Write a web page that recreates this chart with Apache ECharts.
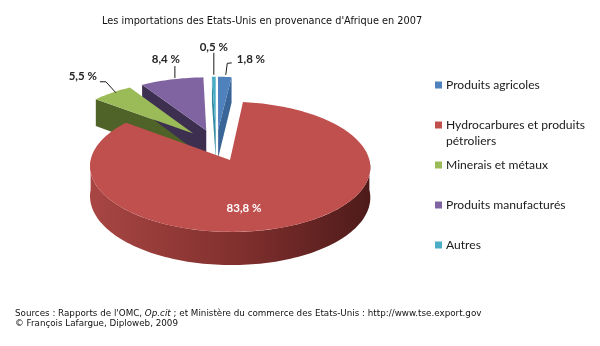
<!DOCTYPE html>
<html>
<head>
<meta charset="utf-8">
<script src="https://cdn.jsdelivr.net/npm/echarts@6/dist/echarts.min.js"></script>
<style>
  html, body { margin: 0; padding: 0; background: #ffffff; }
  #chart { width: 600px; height: 346px; }
</style>
</head>
<body>
<div id="chart"></div>
<script>
// Import shares by product group (percent of total)
const categories = [
  'Produits agricoles',
  'Hydrocarbures et produits\npétroliers',
  'Minerais et métaux',
  'Produits manufacturés',
  'Autres'
];
const shares = [1.8, 83.8, 5.5, 8.4, 0.5];

const titleText = "Les importations des Etats-Unis en provenance d'Afrique en 2007";
const sourceLine = "Sources : Rapports de l'OMC, {i|Op.cit} ; et Ministère du commerce des Etats-Unis : http://www.tse.export.gov";
const creditLine = "© François Lafargue, Diploweb, 2009";

// Colours: top faces and the darker side walls
const topColors  = ['#4f81bd', '#c0504d', '#9bbb59', '#8064a2', '#4bacc6'];
const wallColors = ['#3a6598', '#8c3836', '#4f6228', '#3d2f50', '#2f8aa2'];

// Tilted-disc projection of the pie
const view = { cx: 216.2, cy: 145.1, rx: 136, ry: 61.3, depth: 29, persp: 0.102, explode: 0.257 };

// Leader lines / label offsets from each slice's outer mid point
const labelLayout = [
  { line: [[1, -2], [2.5, -13.6], [7, -14]], text: [12, -18], align: 'left' },
  { inside: true, text: [14, 48], align: 'center' },
  { line: [[4, 0], [-6, -11], [-12, -11]], text: [-15, -16], align: 'right' },
  { line: [[3, -1.4], [3, -13.4]], text: [-6, -20], align: 'center' },
  { line: [[0, -2], [0, -24]], text: [0, -30], align: 'center' }
];

const total = shares.reduce((a, b) => a + b, 0);
const slices = [];
let acc = 0;
shares.forEach(v => {
  const a0 = acc / total * 360;
  acc += v;
  const a1 = acc / total * 360;
  slices.push({ a0, a1, mid: (a0 + a1) / 2 });
});

const rad = d => d * Math.PI / 180;

function project(u, v, h) {
  const s = 1 / (1 + view.persp * v);
  return [view.cx + view.rx * u * s, view.cy - view.ry * v * s + view.depth * h * s];
}

// angle measured clockwise from 12 o'clock; r in disc radii; h = 0 top face, 1 bottom
function slicePoint(i, angle, r, h) {
  const m = rad(slices[i].mid), a = rad(angle);
  const u = view.explode * Math.sin(m) + r * Math.sin(a);
  const v = view.explode * Math.cos(m) + r * Math.cos(a);
  return project(u, v, h);
}

function arcPoints(i, a0, a1, h) {
  const n = Math.max(2, Math.ceil((a1 - a0) / 1.5));
  const pts = [];
  for (let k = 0; k <= n; k++) pts.push(slicePoint(i, a0 + (a1 - a0) * k / n, 1, h));
  return pts;
}

function fmt(v) { return v.toFixed(1).replace('.', ',') + ' %'; }

function renderSlice(params, api) {
  const i = params.dataIndex;
  const value = api.value(0);
  const { a0, a1, mid } = slices[i];
  const z2 = i === 1 ? 20 : 5;
  const children = [];
  const apexTop = slicePoint(i, 0, 0, 0);
  const apexBot = slicePoint(i, 0, 0, 1);

  // radial walls turned towards the viewer
  if (Math.sin(rad(a0)) < -1e-6) {
    children.push({ type: 'polygon', z2,
      shape: { points: [apexTop, slicePoint(i, a0, 1, 0), slicePoint(i, a0, 1, 1), apexBot] },
      style: { fill: wallColors[i] } });
  }
  if (Math.sin(rad(a1)) > 1e-6) {
    children.push({ type: 'polygon', z2,
      shape: { points: [apexTop, slicePoint(i, a1, 1, 0), slicePoint(i, a1, 1, 1), apexBot] },
      style: { fill: wallColors[i] } });
  }
  // front part of the rim
  const f0 = Math.max(a0, 90), f1 = Math.min(a1, 270);
  if (f1 > f0) {
    const top = arcPoints(i, f0, f1, 0);
    const bot = arcPoints(i, f0, f1, 1).reverse();
    const xs = top.map(p => p[0]);
    children.push({ type: 'polygon', z2,
      shape: { points: top.concat(bot) },
      style: { fill: {
        type: 'linear', global: true,
        x: Math.max(...xs), y: 0, x2: Math.min(...xs), y2: 0,
        colorStops: [
          { offset: 0, color: '#4e1b1a' },
          { offset: 0.45, color: '#7f2f2d' },
          { offset: 1, color: '#a84643' }
        ]
      } } });
  }
  // top face
  children.push({ type: 'polygon', z2: z2 + 1,
    shape: { points: [apexTop].concat(arcPoints(i, a0, a1, 0)) },
    style: { fill: topColors[i] } });

  // value label
  const lay = labelLayout[i];
  const anchor = lay.inside ? apexTop : slicePoint(i, mid, 1, 0);
  if (lay.line) {
    children.push({ type: 'polyline', z2: 30,
      shape: { points: lay.line.map(d => [anchor[0] + d[0], anchor[1] + d[1]]) },
      style: { stroke: '#1a1a1a', lineWidth: 1, fill: null } });
  }
  children.push({ type: 'text', z2: 31,
    x: anchor[0] + lay.text[0], y: anchor[1] + lay.text[1],
    style: {
      text: fmt(value), align: lay.align, verticalAlign: 'middle',
      fontFamily: 'Lato', fontWeight: 'bold', fontSize: 11.5,
      fill: lay.inside ? '#ffffff' : '#262626'
    } });
  return { type: 'group', children };
}

// Legend drawn as a fixed column of swatches and names
const legendItems = [];
categories.forEach((name, i) => {
  const y = 85 + i * 40;
  legendItems.push({ type: 'rect', shape: { x: 435, y: y - 3.5, width: 7, height: 7 }, style: { fill: topColors[i] } });
  legendItems.push({ type: 'text', x: 446, y: y - 8,
    style: { text: name, fontFamily: 'Lato', fontSize: 12.1, lineHeight: 16, fill: '#1a1a1a', verticalAlign: 'top' } });
});

const chart = echarts.init(document.getElementById('chart'), null, { renderer: 'canvas' });
chart.setOption({
  animation: false,
  title: {
    text: titleText, left: 97, top: 11,
    textStyle: { fontFamily: 'DejaVu Sans', fontSize: 9.75, fontWeight: 'normal', color: '#111' }
  },
  series: [{
    type: 'custom',
    coordinateSystem: 'none',
    renderItem: renderSlice,
    data: shares.map(v => [v])
  }],
  graphic: legendItems.concat([{
    type: 'text', x: 15, y: 309,
    style: {
      text: sourceLine + '\n' + creditLine,
      fontFamily: 'DejaVu Sans', fontSize: 8.75, lineHeight: 9.5, fill: '#111',
      rich: { i: { fontStyle: 'italic', fontFamily: 'DejaVu Sans', fontSize: 8.75 } }
    }
  }])
});
</script>
</body>
</html>
